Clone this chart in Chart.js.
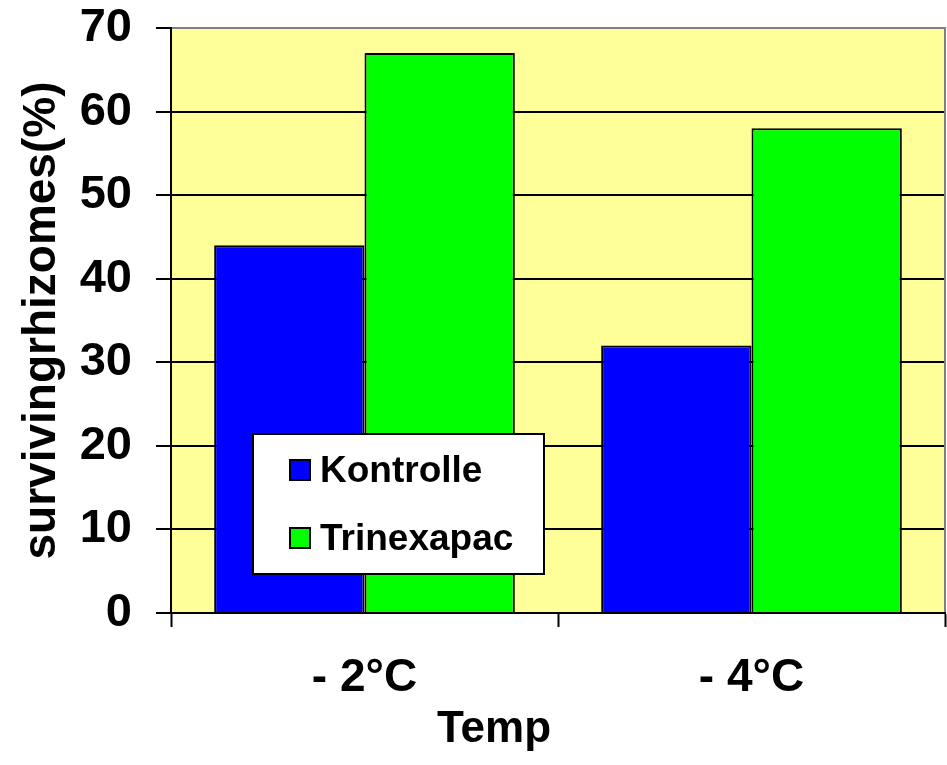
<!DOCTYPE html>
<html>
<head>
<meta charset="utf-8">
<title>Surviving rhizomes</title>
<script src="https://cdn.jsdelivr.net/npm/chart.js@4/dist/chart.umd.min.js"></script>
<style>
    html, body { margin: 0; padding: 0; background: #FFFFFF; }
    #chartWrap { width: 947px; height: 765px; }
</style>
</head>
<body>
<div id="chartWrap"><canvas id="rhizomeChart"></canvas></div>
<script>
// Temperatures tested (x categories)
const arrTemps = ['- 2°C', '- 4°C'];

// Surviving rhizomes in %, one value per temperature
const arrKontrolle = [44, 32];
const arrTrinexapac = [67, 58];

// Y axis range
const nYMin = 0;
const nYMax = 70;
const nYStep = 10;

const strFont = '"Liberation Sans", Arial, Helvetica, sans-serif';

/**
 * Yellow plot background plus the grey frame on top/right
 */
const plotFrame = {
    id: 'plotFrame',
    beforeDraw: (chart) => {
        const ctx = chart.ctx;
        const { top, left, right, bottom } = chart.chartArea;
        ctx.save();
        ctx.fillStyle = '#FFFF99';
        ctx.fillRect(left, top, right - left, bottom - top);
        ctx.restore();
    },
    afterDraw: (chart) => {
        const ctx = chart.ctx;
        const { top, left, right, bottom } = chart.chartArea;
        ctx.save();
        ctx.strokeStyle = '#808080';
        ctx.lineWidth = 2;
        ctx.beginPath();
        ctx.moveTo(left + 1, top);
        ctx.lineTo(right, top);
        ctx.lineTo(right, bottom - 1);
        ctx.stroke();
        ctx.restore();
    },
};

/**
 * Boxed legend sitting over the bars, plus the "Temp" axis title
 */
const boxLegend = {
    id: 'boxLegend',
    afterDatasetsDraw: (chart) => {
        const ctx = chart.ctx;
        const { top, left } = chart.chartArea;
        const x = left + 82;
        const y = top + 406;
        const w = 291;
        const h = 140;

        ctx.save();
        ctx.fillStyle = '#FFFFFF';
        ctx.fillRect(x, y, w, h);
        ctx.strokeStyle = '#000000';
        ctx.lineWidth = 2;
        ctx.strokeRect(x, y, w, h);

        ctx.font = 'bold 37px ' + strFont;
        ctx.textBaseline = 'middle';
        ctx.textAlign = 'left';
        const arrRows = [36, 104];
        chart.data.datasets.forEach((ds, i) => {
            const ry = y + arrRows[i];
            ctx.fillStyle = ds.backgroundColor;
            ctx.fillRect(x + 37, ry - 10, 20, 20);
            ctx.lineWidth = 2;
            ctx.strokeStyle = '#000000';
            ctx.strokeRect(x + 37, ry - 10, 20, 20);
            ctx.fillStyle = '#000000';
            ctx.fillText(ds.label, x + 67, ry + 2);
        });
        ctx.restore();
    },
    afterDraw: (chart) => {
        const ctx = chart.ctx;
        ctx.save();
        ctx.font = 'bold 44px ' + strFont;
        ctx.fillStyle = '#000000';
        ctx.textAlign = 'center';
        ctx.textBaseline = 'middle';
        ctx.fillText('Temp', 494, 730);
        ctx.restore();
    },
};

const chartRhizomes = new Chart(document.getElementById('rhizomeChart'), {
    type: 'bar',
    data: {
        labels: arrTemps,
        datasets: [
            {
                label: 'Kontrolle',
                data: arrKontrolle,
                backgroundColor: '#0000FF',
                borderColor: '#000000',
                borderWidth: 2,
            },
            {
                label: 'Trinexapac',
                data: arrTrinexapac,
                backgroundColor: '#00FF00',
                borderColor: '#000000',
                borderWidth: 2,
            },
        ],
    },
    plugins: [plotFrame, boxLegend],
    options: {
        responsive: true,
        maintainAspectRatio: false,
        animation: false,
        categoryPercentage: 0.777,
        barPercentage: 1.0,
        layout: {
            padding: { top: 0, right: 2, bottom: 0, left: 0 },
        },
        plugins: {
            legend: { display: false },
            tooltip: { enabled: false },
        },
        scales: {
            x: {
                afterFit: (scale) => {
                    scale.height = 152;
                },
                grid: {
                    offset: true,
                    drawOnChartArea: false,
                    drawTicks: true,
                    tickLength: 14,
                    tickWidth: 2,
                    tickColor: '#000000',
                },
                border: { color: '#000000', width: 2 },
                ticks: {
                    color: '#000000',
                    padding: 24,
                    font: { family: strFont, size: 46, weight: 'bold' },
                },
            },
            y: {
                min: nYMin,
                max: nYMax,
                afterFit: (scale) => {
                    // fixed axis width and room above the plot for the "70" label
                    scale.width = 171;
                    scale.paddingTop = 28;
                    scale.paddingBottom = 0;
                },
                grid: {
                    color: (c) => (c.tick && c.tick.value === nYMax ? '#808080' : '#000000'),
                    lineWidth: 2,
                    drawTicks: true,
                    tickLength: 15,
                    tickWidth: 2,
                    tickColor: '#000000',
                },
                border: { color: '#000000', width: 2 },
                ticks: {
                    stepSize: nYStep,
                    color: '#000000',
                    padding: 24,
                    font: { family: strFont, size: 47, weight: 'bold' },
                },
                title: {
                    display: true,
                    text: 'survivingrhizomes(%)',
                    color: '#000000',
                    padding: { top: 15, bottom: 0 },
                    font: { family: strFont, size: 46, weight: 'bold' },
                },
            },
        },
    },
});
</script>
</body>
</html>
